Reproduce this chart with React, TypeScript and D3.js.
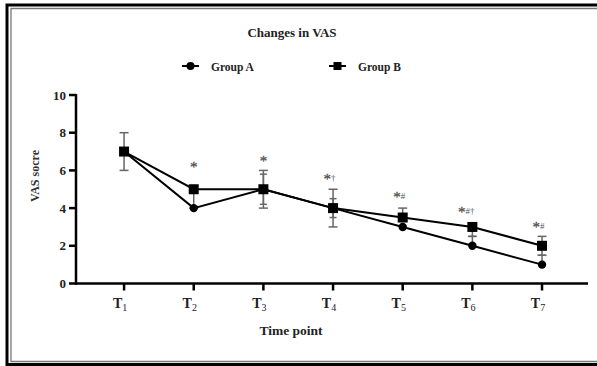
import React from "react";
import * as d3 from "d3";

const categories = ["1", "2", "3", "4", "5", "6", "7"];
const groupA = [7, 4, 5, 4, 3, 2, 1];
const groupB = [7, 5, 5, 4, 3.5, 3, 2];
const errLowA = [7, 4, 4.2, 3.5, 3, 2, 1];
const errHighA = [7, 4, 5.8, 4.5, 3, 2.5, 1.5];
const errLowB = [6, 4, 4, 3, 3.5, 2.5, 1.5];
const errHighB = [8, 5, 6, 5, 4, 3, 2.5];
const annotMain = ["", "*", "*", "*", "*", "*", "*"];
const annotSup = ["", "", "", "†", "#", "#†", "#"];
const annotLevel = [0, 6.3, 6.65, 5.65, 4.7, 3.95, 3.15];
const yTicks = [0, 2, 4, 6, 8, 10];

const W = 597;
const H = 366;
const FONT = "'Liberation Serif', 'Times New Roman', serif";

export default function App() {
  const x = d3.scaleLinear().domain([0.31, 7.66]).range([76, 588]);
  const y = d3.scaleLinear().domain([0, 10]).range([283.5, 95]);
  const idx = categories.map((_, i) => i + 1);
  const line = d3
    .line<number>()
    .x((_, i) => x(idx[i]))
    .y((d) => y(d));
  const sq = 10;
  const errColor = "#666666";
  const annColor = "#555555";

  const errBars = (lo: number[], hi: number[], key: string, cap: number) =>
    lo.map((l, i) => {
      const h = hi[i];
      if (h === l) return null;
      const cx = x(idx[i]);
      return (
        <g key={key + i} stroke={errColor} strokeWidth={1.5}>
          <line x1={cx} x2={cx} y1={y(l)} y2={y(h)} />
          <line x1={cx - cap} x2={cx + cap} y1={y(l)} y2={y(l)} />
          <line x1={cx - cap} x2={cx + cap} y1={y(h)} y2={y(h)} />
        </g>
      );
    });

  return (
    <svg
      width={W}
      height={H}
      style={{ position: "absolute", left: 0, top: 0, background: "#fff" }}
      fontFamily={FONT}
    >
      <rect x={0} y={0} width={W} height={H} fill="#fff" />
      {/* frame */}
      <path d={`M ${W + 5} 5 H 7 V 364.5 H ${W + 5}`} fill="none" stroke="#000" strokeWidth={3} />
      <path d={`M ${W + 5} 8.5 H 11 V 361.5 H ${W + 5}`} fill="none" stroke="#777" strokeWidth={1.3} />

      {/* title */}
      <text x={292} y={37} textAnchor="middle" fontSize={13} fontWeight="bold" fill="#222">
        Changes in VAS
      </text>

      {/* legend */}
      <g>
        <line x1={182} x2={199} y1={66} y2={66} stroke="#000" strokeWidth={2} />
        <circle cx={190.5} cy={66} r={4} fill="#000" />
        <text x={211} y={70.5} fontSize={11.5} fontWeight="bold" fill="#222">
          Group A
        </text>
        <line x1={329} x2={346} y1={66} y2={66} stroke="#000" strokeWidth={2} />
        <rect x={337.5 - 4} y={62} width={8} height={8} fill="#000" />
        <text x={358} y={70.5} fontSize={11.5} fontWeight="bold" fill="#222">
          Group B
        </text>
      </g>

      {/* y axis */}
      <g>
        <line x1={76} x2={76} y1={y(10) - 1} y2={y(0) + 1.25} stroke="#000" strokeWidth={2.5} />
        {yTicks.map((t) => (
          <g key={"yt" + t}>
            <line x1={69} x2={76} y1={y(t)} y2={y(t)} stroke="#000" strokeWidth={2.5} />
            <text x={66} y={y(t) + 4.5} textAnchor="end" fontSize={13} fontWeight="bold" fill="#222">
              {t}
            </text>
          </g>
        ))}
        <text
          transform={`translate(39, 176) rotate(-90)`}
          textAnchor="middle"
          fontSize={12}
          fontWeight="bold"
          fill="#333"
        >
          VAS socre
        </text>
      </g>

      {/* x axis */}
      <g>
        <line x1={76} x2={588} y1={y(0)} y2={y(0)} stroke="#000" strokeWidth={2.5} />
        {categories.map((c, i) => (
          <g key={"xt" + c}>
            <line x1={x(idx[i])} x2={x(idx[i])} y1={y(0)} y2={y(0) + 7} stroke="#000" strokeWidth={2.5} />
            <text x={x(idx[i]) - 4} y={308} textAnchor="middle" fontSize={14} fontWeight="bold" fill="#222">
              T
              <tspan fontSize={10} fontWeight="normal" dy={3}>
                {c}
              </tspan>
            </text>
          </g>
        ))}
        <text x={291} y={335} textAnchor="middle" fontSize={13.5} fontWeight="bold" fill="#222">
          Time point
        </text>
      </g>

      {/* error bars */}
      {errBars(errLowB, errHighB, "eb", 4.5)}
      {errBars(errLowA, errHighA, "ea", 3.5)}

      {/* lines */}
      <path d={line(groupA) || ""} fill="none" stroke="#000" strokeWidth={2} />
      <path d={line(groupB) || ""} fill="none" stroke="#000" strokeWidth={2} />

      {/* markers */}
      {groupA.map((v, i) => (
        <circle key={"ma" + i} cx={x(idx[i])} cy={y(v)} r={4.2} fill="#000" />
      ))}
      {groupB.map((v, i) => (
        <rect key={"mb" + i} x={x(idx[i]) - sq / 2} y={y(v) - sq / 2} width={sq} height={sq} fill="#000" />
      ))}

      {/* annotations */}
      {annotMain.map((m, i) =>
        m ? (
          <text
            key={"an" + i}
            x={x(idx[i]) - (annotSup[i] ? 1 + annotSup[i].length * 2.5 : 0)}
            y={y(annotLevel[i]) + 7.5}
            textAnchor="middle"
            fontSize={15}
            fill={annColor}
            stroke={annColor}
            strokeWidth={0.3}
          >
            {m}
            {annotSup[i] ? (
              <tspan fontSize={9} dy={-3} strokeWidth={0}>
                {annotSup[i]}
              </tspan>
            ) : null}
          </text>
        ) : null
      )}
    </svg>
  );
}
